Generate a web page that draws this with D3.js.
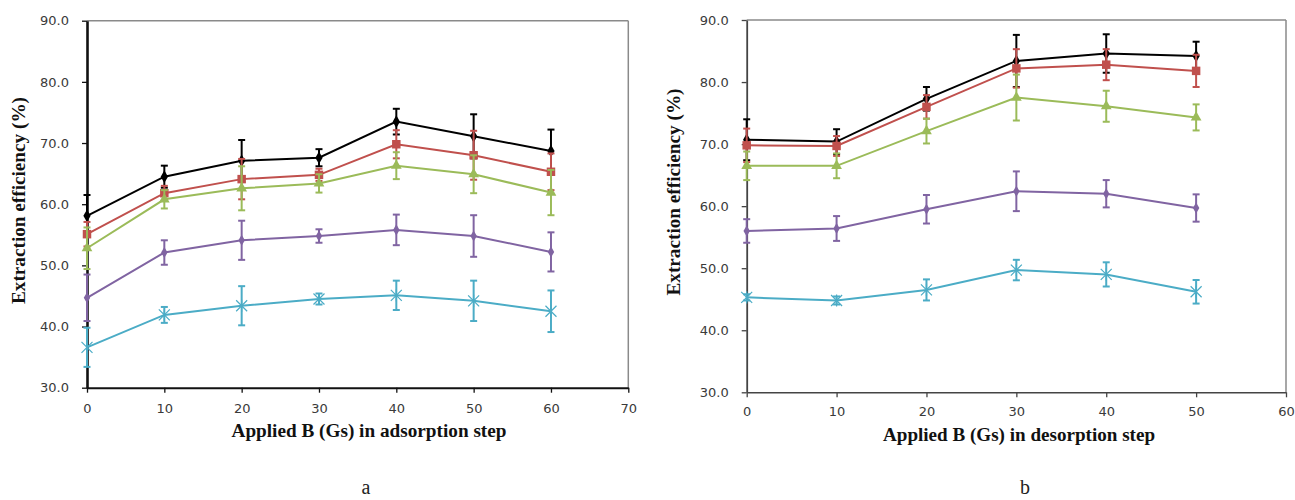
<!DOCTYPE html>
<html>
<head>
<meta charset="utf-8">
<script src="https://cdn.jsdelivr.net/npm/d3@7/dist/d3.min.js"></script>
<style>
  html, body { margin: 0; padding: 0; background: #fff; }
  svg { display: block; }
</style>
</head>
<body>
<svg id="chart" width="1295" height="500"></svg>
<script>
// ---------- Data ----------
const seriesNames = ["S1", "S2", "S3", "S4", "S5"];
const yTicks = [30, 40, 50, 60, 70, 80, 90];

// Chart a: adsorption step
const xA = [0, 10, 20, 30, 40, 50, 60];
const xTicksA = [0, 10, 20, 30, 40, 50, 60, 70];
const blackA  = [58.1, 64.5, 67.1, 67.6, 73.5, 71.1, 68.7];
const redA    = [55.1, 61.8, 64.1, 64.8, 69.8, 68.0, 65.3];
const greenA  = [52.8, 60.8, 62.6, 63.4, 66.3, 64.9, 61.9];
const purpleA = [44.7, 52.1, 54.1, 54.8, 55.8, 54.8, 52.2];
const cyanA   = [36.6, 41.9, 43.4, 44.5, 45.1, 44.2, 42.5];
const blackErrA  = [3.4, 1.8, 3.4, 1.4, 2.1, 3.6, 3.5];
const redErrA    = [2.0, 1.2, 3.3, 1.0, 2.3, 4.0, 3.0];
const greenErrA  = [3.4, 1.5, 3.6, 1.5, 2.2, 3.1, 3.7];
const purpleErrA = [3.8, 2.0, 3.2, 1.1, 2.5, 3.4, 3.2];
const cyanErrA   = [3.2, 1.3, 3.2, 0.9, 2.4, 3.3, 3.4];

// Chart b: desorption step
const xB = [0, 10, 20, 30, 40, 50];
const xTicksB = [0, 10, 20, 30, 40, 50, 60];
const blackB  = [70.7, 70.4, 77.3, 83.4, 84.6, 84.2];
const redB    = [69.8, 69.7, 76.0, 82.2, 82.8, 81.8];
const greenB  = [66.5, 66.5, 72.1, 77.5, 76.1, 74.3];
const purpleB = [56.0, 56.4, 59.5, 62.4, 62.0, 59.7];
const cyanB   = [45.3, 44.8, 46.5, 49.7, 49.0, 46.2];
const blackErrB  = [3.3, 2.0, 1.9, 4.2, 3.1, 2.3];
const redErrB    = [2.7, 1.6, 1.9, 3.1, 2.5, 2.6];
const greenErrB  = [2.3, 2.0, 2.0, 3.7, 2.5, 2.1];
const purpleErrB = [1.9, 2.0, 2.3, 3.2, 2.2, 2.2];
const cyanErrB   = [0.5, 0.65, 1.7, 1.65, 1.95, 1.9];

const yLabel = "Extraction efficiency (%)";
const xLabelA = "Applied B (Gs) in adsorption step";
const xLabelB = "Applied B (Gs) in desorption step";
const panelA = "a";
const panelB = "b";

// ---------- Styles ----------
const colors = ["#000000", "#c0504d", "#9bbb59", "#8064a2", "#4bacc6"];
const markers = ["diamond", "square", "triangle", "smalldiamond", "asterisk"];

const svg = d3.select("#chart");

function drawChart(cfg) {
  const g = svg.append("g");
  const x = d3.scaleLinear().domain([cfg.xTicks[0], cfg.xTicks[cfg.xTicks.length - 1]]).range([cfg.left, cfg.right]);
  const y = d3.scaleLinear().domain([30, 90]).range([cfg.bottom, cfg.top]);

  // frame top and right
  g.append("line").attr("x1", cfg.left).attr("x2", cfg.right).attr("y1", cfg.top).attr("y2", cfg.top)
    .attr("stroke", "#8a8a8a").attr("stroke-width", 1.5);
  g.append("line").attr("x1", cfg.right).attr("x2", cfg.right).attr("y1", cfg.top).attr("y2", cfg.bottom)
    .attr("stroke", "#8a8a8a").attr("stroke-width", 1.5);

  // axes
  const yAxis = d3.axisLeft(y).tickValues(yTicks).tickFormat(d3.format(".1f")).tickSizeInner(5).tickSizeOuter(0).tickPadding(13);
  const xAxis = d3.axisBottom(x).tickValues(cfg.xTicks).tickFormat(d3.format("d")).tickSizeInner(5).tickSizeOuter(0).tickPadding(cfg.xPad);

  const ya = g.append("g").attr("transform", `translate(${cfg.left},0)`).call(yAxis);
  const xa = g.append("g").attr("transform", `translate(0,${cfg.bottom})`).call(xAxis);
  [ya, xa].forEach(a => {
    a.select(".domain").attr("stroke", cfg.axisColor).attr("stroke-width", cfg.axisWidth);
    a.selectAll(".tick line").attr("stroke", cfg.axisColor).attr("stroke-width", 1.3);
    a.selectAll(".tick text").attr("font-family", "DejaVu Sans").attr("font-size", 13).attr("fill", "#3a3a3a");
  });
  ya.select(".domain").attr("stroke-width", cfg.yAxisWidth);

  // series
  cfg.series.forEach((s, i) => {
    const col = colors[i];
    const pts = cfg.xs.map((xv, j) => ({ x: xv, y: s.values[j], e: s.errs[j] }));
    const sg = g.append("g");
    // error bars
    const eb = sg.selectAll(".eb").data(pts).enter().append("g");
    eb.append("line").attr("x1", d => x(d.x)).attr("x2", d => x(d.x))
      .attr("y1", d => y(d.y + d.e)).attr("y2", d => y(d.y - d.e))
      .attr("stroke", col).attr("stroke-width", 2);
    eb.append("line").attr("x1", d => x(d.x) - 3.5).attr("x2", d => x(d.x) + 3.5)
      .attr("y1", d => y(d.y + d.e)).attr("y2", d => y(d.y + d.e))
      .attr("stroke", col).attr("stroke-width", 2);
    eb.append("line").attr("x1", d => x(d.x) - 3.5).attr("x2", d => x(d.x) + 3.5)
      .attr("y1", d => y(d.y - d.e)).attr("y2", d => y(d.y - d.e))
      .attr("stroke", col).attr("stroke-width", 2);
    // line
    sg.append("path").datum(pts)
      .attr("d", d3.line().x(d => x(d.x)).y(d => y(d.y)))
      .attr("fill", "none").attr("stroke", col).attr("stroke-width", 2);
    // markers
    const m = markers[i];
    const mk = sg.selectAll(".mk").data(pts).enter().append("g")
      .attr("transform", d => `translate(${x(d.x)},${y(d.y)})`);
    if (m === "diamond") {
      mk.append("path").attr("d", d3.symbol(d3.symbolDiamond, 46)).attr("fill", col);
    } else if (m === "smalldiamond") {
      mk.append("path").attr("d", d3.symbol(d3.symbolDiamond, 36)).attr("fill", col);
    } else if (m === "square") {
      mk.append("path").attr("d", d3.symbol(d3.symbolSquare, 72)).attr("fill", col);
    } else if (m === "triangle") {
      mk.append("path").attr("d", d3.symbol(d3.symbolTriangle, 50)).attr("fill", col);
    } else if (m === "asterisk") {
      const r = 5.5;
      mk.append("path").attr("d", `M${-r},${-r}L${r},${r}M${-r},${r}L${r},${-r}M0,${-r * 1.1}L0,${r * 1.1}`)
        .attr("stroke", col).attr("stroke-width", 1.2).attr("fill", "none");
    }
  });

  // axis titles
  g.append("text").text(cfg.xLabel)
    .attr("x", cfg.xLabelX).attr("y", cfg.xLabelY).attr("text-anchor", "middle")
    .attr("font-family", "Liberation Serif").attr("font-weight", "bold").attr("font-size", 18)
    .attr("textLength", cfg.xLabelLen).attr("lengthAdjust", "spacingAndGlyphs").attr("fill", "#111");
  g.append("text").text(yLabel)
    .attr("transform", `translate(${cfg.yLabelX},${cfg.yLabelY}) rotate(-90)`).attr("text-anchor", "middle")
    .attr("font-family", "Liberation Serif").attr("font-weight", "bold").attr("font-size", 18)
    .attr("textLength", 207).attr("lengthAdjust", "spacingAndGlyphs").attr("fill", "#111");
  g.append("text").text(cfg.panel)
    .attr("x", cfg.panelX).attr("y", 494).attr("text-anchor", "middle")
    .attr("font-family", "Liberation Serif").attr("font-size", 20).attr("fill", "#222");
}

drawChart({
  left: 87, right: 628.3, top: 20.7, bottom: 387.7,
  xs: xA, xTicks: xTicksA, xPad: 11,
  axisColor: "#111", axisWidth: 2, yAxisWidth: 2.6,
  series: [
    { values: blackA, errs: blackErrA },
    { values: redA, errs: redErrA },
    { values: greenA, errs: greenErrA },
    { values: purpleA, errs: purpleErrA },
    { values: cyanA, errs: cyanErrA }
  ],
  xLabel: xLabelA, xLabelX: 369, xLabelY: 437, xLabelLen: 275,
  yLabelX: 25, yLabelY: 200.5,
  panel: panelA, panelX: 366
});

drawChart({
  left: 746.7, right: 1286, top: 20, bottom: 392.3,
  xs: xB, xTicks: xTicksB, xPad: 9.5,
  axisColor: "#444", axisWidth: 1.5, yAxisWidth: 1.8,
  series: [
    { values: blackB, errs: blackErrB },
    { values: redB, errs: redErrB },
    { values: greenB, errs: greenErrB },
    { values: purpleB, errs: purpleErrB },
    { values: cyanB, errs: cyanErrB }
  ],
  xLabel: xLabelB, xLabelX: 1019, xLabelY: 441, xLabelLen: 272,
  yLabelX: 680, yLabelY: 192,
  panel: panelB, panelX: 1025
});
</script>
</body>
</html>
